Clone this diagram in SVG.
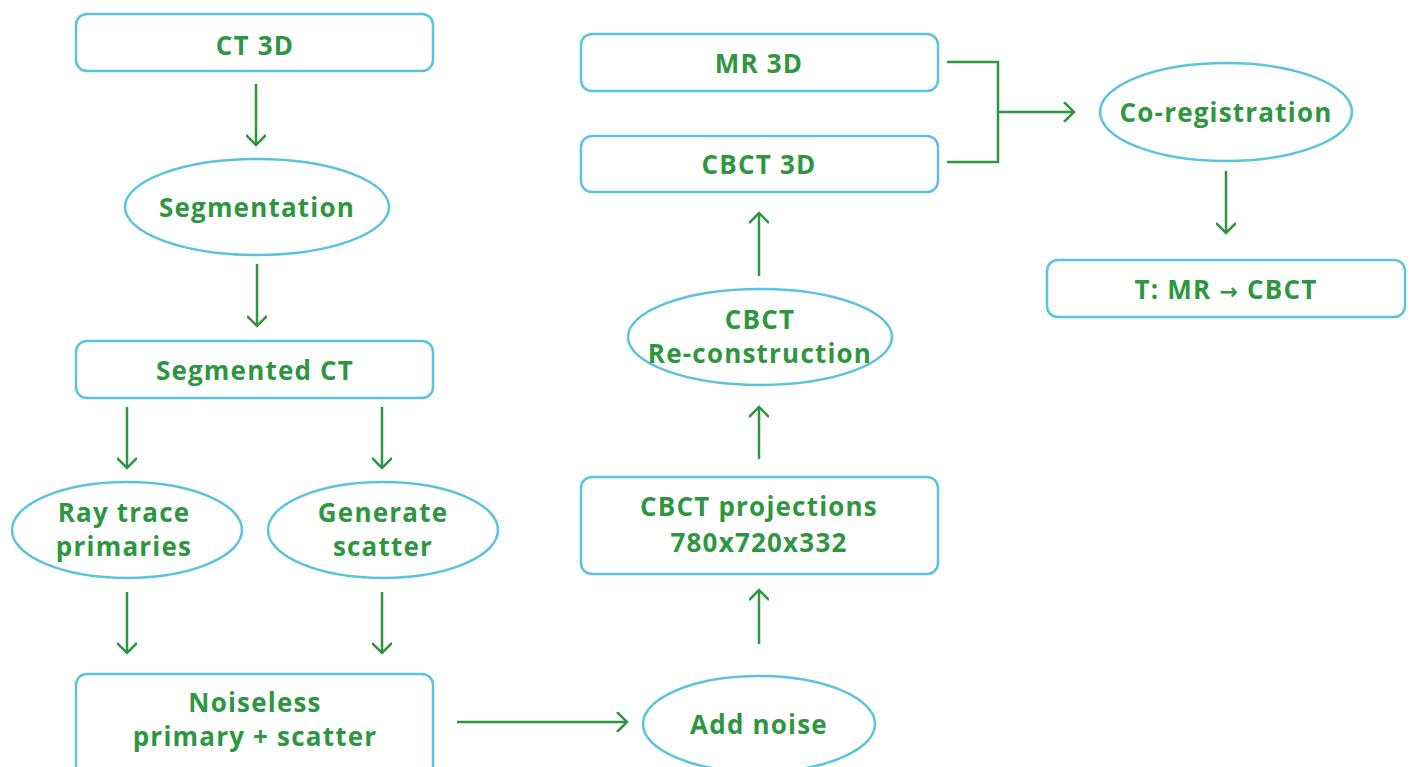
<svg xmlns="http://www.w3.org/2000/svg" width="1415" height="767" viewBox="0 0 1415 767">
<style>
.box{fill:#fff;stroke:#5ac3dd;stroke-width:2.5}
.t{font-family:"Open Sans","Noto Sans",sans-serif;font-weight:bold;font-size:26px;fill:#2e9640;text-anchor:middle;letter-spacing:1.2px}
.c{fill:none;stroke:#2e9640;stroke-width:2.5}
</style>
<defs>
<marker id="ah" viewBox="0 0 20 20" refX="16" refY="10" markerWidth="20" markerHeight="20" markerUnits="userSpaceOnUse" orient="auto">
<path d="M6,0 L16,10 L6,20" fill="none" stroke="#2e9640" stroke-width="2.5"/>
</marker>
</defs>
<rect width="1415" height="767" fill="#fff"/>
<g id="connectors">
<line class="c" x1="256" y1="84" x2="256" y2="145" marker-end="url(#ah)"/>
<line class="c" x1="257" y1="264" x2="257" y2="326" marker-end="url(#ah)"/>
<line class="c" x1="127" y1="407" x2="127" y2="468" marker-end="url(#ah)"/>
<line class="c" x1="382" y1="407" x2="382" y2="468" marker-end="url(#ah)"/>
<line class="c" x1="127" y1="592" x2="127" y2="653" marker-end="url(#ah)"/>
<line class="c" x1="382" y1="592" x2="382" y2="653" marker-end="url(#ah)"/>
<line class="c" x1="457" y1="722" x2="627" y2="722" marker-end="url(#ah)"/>
<line class="c" x1="759" y1="644" x2="759" y2="590" marker-end="url(#ah)"/>
<line class="c" x1="759" y1="459" x2="759" y2="407" marker-end="url(#ah)"/>
<line class="c" x1="759" y1="276" x2="759" y2="213" marker-end="url(#ah)"/>
<path class="c" d="M947,62 H998 V162 H947"/>
<line class="c" x1="998" y1="112" x2="1074" y2="112" marker-end="url(#ah)"/>
<line class="c" x1="1226" y1="171" x2="1226" y2="233" marker-end="url(#ah)"/>
</g>
<g id="ct3d"><rect class="box" x="76" y="14" width="357" height="57" rx="11"/><text class="t" x="255" y="55">CT 3D</text></g>
<g id="segmentation"><ellipse class="box" cx="257" cy="207" rx="132" ry="48"/><text class="t" x="257" y="217">Segmentation</text></g>
<g id="segmentedct"><rect class="box" x="76" y="341" width="357" height="57" rx="11"/><text class="t" x="255" y="380">Segmented CT</text></g>
<g id="raytrace"><ellipse class="box" cx="127" cy="530" rx="115" ry="48"/><text class="t" x="124" y="522">Ray trace<tspan x="124" dy="34">primaries</tspan></text></g>
<g id="generatescatter"><ellipse class="box" cx="383" cy="530" rx="115" ry="48"/><text class="t" x="383" y="522">Generate<tspan x="383" dy="34">scatter</tspan></text></g>
<g id="noiseless"><rect class="box" x="76" y="674" width="357" height="110" rx="11"/><text class="t" x="255" y="712">Noiseless<tspan x="255" dy="34">primary + scatter</tspan></text></g>
<g id="addnoise"><ellipse class="box" cx="759" cy="724" rx="116" ry="48"/><text class="t" x="759" y="734">Add noise</text></g>
<g id="projections"><rect class="box" x="581" y="477" width="357" height="97" rx="11"/><text class="t" x="759" y="516">CBCT projections<tspan x="759" dy="36">780x720x332</tspan></text></g>
<g id="recon"><ellipse class="box" cx="760" cy="337" rx="132" ry="48"/><text class="t" x="760" y="329">CBCT<tspan x="760" dy="34">Re-construction</tspan></text></g>
<g id="cbct3d"><rect class="box" x="581" y="136" width="357" height="56" rx="11"/><text class="t" x="759" y="174">CBCT 3D</text></g>
<g id="mr3d"><rect class="box" x="581" y="34" width="357" height="57" rx="11"/><text class="t" x="759" y="73">MR 3D</text></g>
<g id="coreg"><ellipse class="box" cx="1226" cy="112" rx="126" ry="49"/><text class="t" x="1226" y="122">Co-registration</text></g>
<g id="transform"><rect class="box" x="1047" y="260" width="358" height="57" rx="11"/><text class="t" x="1226" y="299">T: MR <tspan font-family="DejaVu Sans" font-size="22">→</tspan> CBCT</text></g>
</svg>
